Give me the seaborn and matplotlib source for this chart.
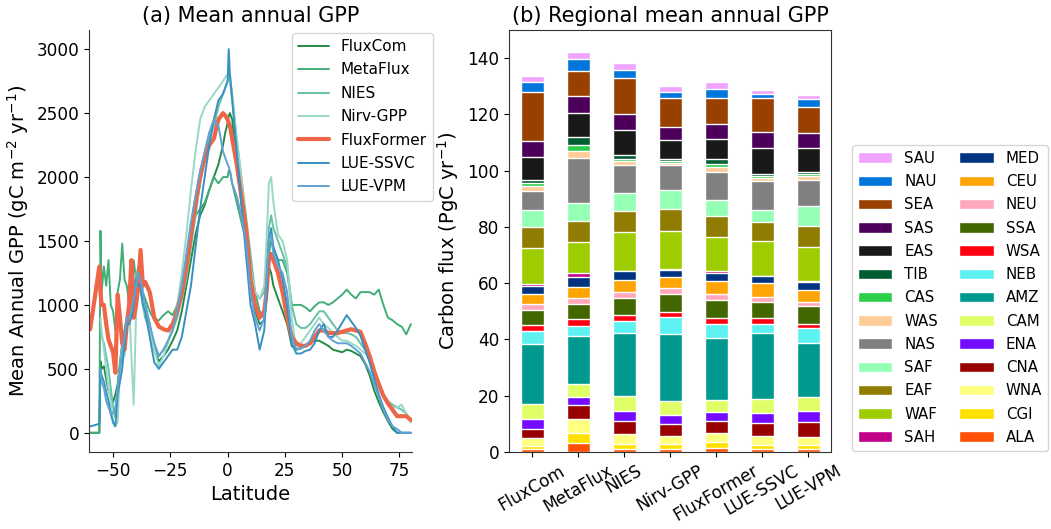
import numpy as np
import pandas as pd
import matplotlib
matplotlib.use("Agg")
import matplotlib.pyplot as plt
import seaborn as sns
from matplotlib.patches import Patch

sns.set_style("ticks")
plt.rcParams['font.family'] = ['DejaVu Sans']
plt.rcParams.update({"text.color": "black", "axes.labelcolor": "black",
                     "xtick.color": "black", "ytick.color": "black",
                     "axes.edgecolor": "#333333"})

nan = np.nan
# ---------------- panel (a): latitude profiles ----------------
lat = [-60, -56, -55.5, -55, -54, -53, -52, -51, -50, -49,
       -48, -47, -46, -45, -44, -43, -42, -41, -40, -39,
       -38, -37, -36, -34, -32, -30, -28, -26, -24, -22,
       -20, -18, -16, -14, -12, -10, -8, -6, -4, -2,
       -1, 0, 0.5, 1, 2, 4, 6, 8, 10, 12,
       14, 16, 17, 18, 19, 20, 22, 24, 26, 28,
       30, 32, 34, 36, 38, 40, 42, 44, 46, 48,
       50, 52, 54, 56, 58, 60, 62, 64, 66, 68,
       70, 72, 74, 76, 78, 80]

fluxcom = [0, 0, 560, 500, 520, 420, 330, 280, 240, 300,
           380, 550, 700, 800, 900, 950, 1000, 1100, 1150, 1250,
           1200, 1050, 1000, 850, 650, 560, 600, 650, 720, 800,
           950, 1150, 1350, 1550, 1700, 1780, 1900, 2000, 2100, 2250,
           2350, 2420, 2480, 2500, 2450, 2100, 1800, 1500, 1150, 950,
           850, 880, 1050, 1300, 1250, 1150, 1050, 950, 850, 680,
           650, 660, 680, 700, 720, 720, 700, 680, 650, 640,
           630, 650, 640, 620, 600, 540, 450, 330, 240, 160,
           90, 30, 0, 0, 0, 0]

metaflux = [0, 0, 1580, 1100, 1300, 1150, 1350, 1000, 950, 800,
            1100, 1200, 1480, 1200, 1150, 1000, 1050, 1350, 1200, 1300,
            1250, 1100, 1050, 950, 880, 880, 920, 950, 920, 1000,
            1150, 1350, 1550, 1700, 1750, 1800, 1900, 2000, 1950, 2000,
            2000, 2000, 2050, 2050, 1950, 1800, 1650, 1500, 1300, 1100,
            950, 900, 1050, 1400, 1500, 1450, 1350, 1350, 1250, 1000,
            1000, 1000, 980, 950, 990, 1020, 1020, 1000, 1020, 1050,
            1080, 1120, 1080, 1050, 1100, 1100, 1100, 1080, 1120, 1000,
            900, 880, 850, 830, 770, 850]

nies = [nan, nan, 800, 750, 700, 600, 500, 350, 200, 120,
        350, 500, 600, 800, 900, 950, 1000, 1100, 1250, 1150,
        1100, 1000, 900, 800, 700, 600, 650, 720, 800, 900,
        1050, 1200, 1450, 1700, 1950, 2150, 2300, 2400, 2550, 2650,
        2700, 2750, 2780, 2800, 2650, 2300, 2000, 1700, 1400, 1100,
        1050, 1100, 1300, 1600, 1700, 1600, 1500, 1400, 1300, 1000,
        850, 820, 820, 850, 900, 950, 950, 900, 850, 800,
        780, 780, 770, 750, 700, 650, 600, 500, 400, 300,
        250, 220, 200, 180, 150, 100]

nirv = [nan, nan, 900, 800, 650, 500, 350, 250, 100, 60,
        80, 500, 700, 600, 800, 1000, 600, 220, 900, 1100,
        1300, 1100, 950, 800, 650, 520, 600, 700, 850, 1000,
        1250, 1550, 1900, 2200, 2450, 2550, 2600, 2650, 2700, 2750,
        2780, 2800, 2780, 2750, 2600, 2300, 2000, 1600, 1300, 1100,
        1050, 1150, 1500, 1950, 2000, 1800, 1550, 1500, 1350, 900,
        650, 700, 750, 800, 850, 900, 850, 820, 780, 750,
        720, 720, 700, 680, 650, 620, 600, 500, 400, 300,
        250, 200, 200, 220, 150, 80]

fluxformer = [810, 1300, 1100, 1000, 1000, 850, 730, 680, 630, 470,
              1080, 900, 700, 650, 850, 1000, 1350, 900, 1000, 1150,
              1430, 1150, 1180, 1100, 900, 830, 810, 800, 850, 950,
              1100, 1300, 1550, 1800, 2000, 2150, 2250, 2300, 2450, 2500,
              2480, 2450, 2420, 2400, 2300, 2100, 1850, 1600, 1200, 1000,
              900, 950, 1100, 1350, 1400, 1350, 1250, 1100, 900, 750,
              700, 680, 680, 700, 750, 800, 800, 780, 780, 780,
              790, 800, 810, 800, 790, 700, 600, 480, 380, 290,
              230, 180, 130, 130, 130, 100]

lue_ssvc = [50, 70, 500, 450, 400, 320, 250, 150, 80, 50,
            300, 400, 500, 700, 850, 850, 900, 1000, 1200, 1150,
            1150, 1000, 950, 750, 550, 500, 550, 600, 650, 650,
            750, 950, 1150, 1450, 1750, 2000, 2250, 2450, 2600, 2650,
            2700, 2750, 3000, 2800, 2600, 2200, 1800, 1400, 1000, 850,
            650, 800, 1100, 1500, 1600, 1450, 1350, 1200, 1000, 700,
            620, 620, 640, 650, 700, 800, 850, 750, 750, 800,
            860, 920, 870, 820, 760, 650, 550, 420, 300, 200,
            120, 50, 0, 0, 0, 0]

lue_vpm = [nan, nan, 500, 400, 350, 250, 200, 150, 150, 200,
           350, 500, 650, 750, 900, 900, 950, 1050, 1150, 1250,
           1200, 1100, 1000, 850, 700, 600, 650, 720, 800, 950,
           1150, 1400, 1650, 1850, 2050, 2200, 2350, 2450, 2400, 2200,
           2150, 2100, 2080, 2050, 1950, 1850, 1700, 1500, 1100, 900,
           800, 900, 1200, 1500, 1550, 1400, 1300, 1250, 1100, 750,
           650, 660, 680, 720, 800, 850, 800, 750, 720, 700,
           700, 700, 680, 650, 620, 550, 480, 380, 280, 180,
           100, 50, 30, 0, 0, 0]

line_names = ["FluxCom", "MetaFlux", "NIES", "Nirv-GPP", "FluxFormer", "LUE-SSVC", "LUE-VPM"]
line_values = [fluxcom, metaflux, nies, nirv, fluxformer, lue_ssvc, lue_vpm]
line_colors = ["#238b45", "#41ae76", "#66c2a4", "#99d8c9", "#ef6548", "#3690c0", "#5fa2d3"]
line_widths = [1.4, 1.4, 1.4, 1.4, 3.0, 1.4, 1.4]

# ---------------- panel (b): regional stacked bars ----------------
models = ["FluxCom", "MetaFlux", "NIES", "Nirv-GPP", "FluxFormer", "LUE-SSVC", "LUE-VPM"]
regions = ["ALA", "CGI", "WNA", "CNA", "ENA", "CAM", "AMZ", "NEB", "WSA", "SSA",
           "NEU", "CEU", "MED", "SAH", "WAF", "EAF", "SAF", "NAS", "WAS", "CAS",
           "TIB", "EAS", "SAS", "SEA", "NAU", "SAU"]
region_colors = ["#FF5005", "#FFE100", "#FFFF80", "#990000", "#740AFF", "#E0FF66",
                 "#00998F", "#5EF1F2", "#FF0010", "#426600", "#FFA8BB", "#FFA405",
                 "#003380", "#C20088", "#9DCC00", "#8F7C00", "#94FFB5", "#808080",
                 "#FFCC99", "#2BCE48", "#005C31", "#191919", "#4C005C", "#993F00",
                 "#0075DC", "#F0A3FF"]

gpp_fluxcom = [1.0, 1.2, 2.6, 3.4, 3.5, 5.4, 21.3, 4.5, 2.1, 5.5, 2.1, 3.4, 3.1,
               0.5, 12.9, 7.6, 5.8, 7.0, 1.6, 1.1, 1.0, 8.2, 5.6, 17.6, 3.4, 2.1]
gpp_metaflux = [3.3, 3.5, 5.1, 4.7, 2.9, 4.5, 17.1, 3.7, 2.4, 5.4, 2.3, 3.9, 3.5,
                1.4, 11.0, 7.3, 6.5, 15.9, 2.6, 2.2, 2.8, 8.6, 6.1, 8.6, 4.5, 2.4]
gpp_nies = [1.2, 1.8, 3.4, 4.7, 3.5, 5.3, 22.4, 4.4, 2.1, 6.1, 2.1, 4.2, 3.0,
            0.3, 13.6, 7.7, 6.1, 10.1, 1.5, 0.7, 1.2, 8.9, 5.8, 12.9, 2.9, 2.2]
gpp_nirv = [1.2, 1.5, 2.9, 4.4, 3.3, 4.7, 24.0, 6.1, 1.7, 6.4, 2.1, 4.0, 2.5,
            0.2, 13.6, 7.6, 6.8, 8.9, 0.8, 0.6, 0.7, 7.0, 4.5, 10.4, 2.1, 2.2]
gpp_fluxformer = [1.3, 2.2, 3.2, 4.3, 3.1, 4.5, 21.9, 5.0, 2.1, 6.4, 2.0, 4.6, 3.0,
                  0.7, 12.0, 7.5, 5.8, 9.8, 2.0, 1.1, 1.5, 7.3, 5.3, 9.3, 3.3, 2.2]
gpp_lue_ssvc = [1.2, 1.3, 3.3, 4.6, 3.3, 5.2, 23.3, 3.4, 1.9, 5.8, 1.9, 4.8, 2.5,
                0.2, 12.3, 6.6, 4.5, 10.3, 0.9, 0.8, 0.7, 9.1, 5.8, 12.3, 1.2, 1.6]
gpp_lue_vpm = [1.1, 1.4, 2.8, 5.4, 3.8, 4.9, 19.3, 5.3, 1.6, 6.3, 1.4, 4.2, 2.9,
               0.4, 11.9, 7.8, 7.0, 9.1, 1.4, 0.7, 0.8, 8.4, 5.4, 9.2, 2.9, 1.6]

bar_table = pd.DataFrame(
    [gpp_fluxcom, gpp_metaflux, gpp_nies, gpp_nirv, gpp_fluxformer, gpp_lue_ssvc, gpp_lue_vpm],
    index=models, columns=regions)
cum_table = bar_table.cumsum(axis=1)

# ---------------- figure ----------------
fig = plt.figure(figsize=(10.51, 5.29), dpi=100)
ax1 = fig.add_axes([0.0847, 0.1456, 0.3073, 0.7977])
ax2 = fig.add_axes([0.4843, 0.1456, 0.3064, 0.7977])

line_df = pd.DataFrame({"lat": lat})
for name, vals, col, lw in zip(line_names, line_values, line_colors, line_widths):
    line_df[name] = vals
    sns.lineplot(data=line_df, x="lat", y=name, color=col, linewidth=lw,
                 label=name, ax=ax1)

ax1.set_xlim(-60.5, 80.5)
ax1.set_ylim(-150, 3150)
ax1.set_xticks([-50, -25, 0, 25, 50, 75])
ax1.set_yticks([0, 500, 1000, 1500, 2000, 2500, 3000])
ax1.set_xlabel("Latitude", fontsize=14)
ax1.set_ylabel("Mean Annual GPP (gC m$^{-2}$ yr$^{-1}$)", fontsize=14)
ax1.set_title("(a) Mean annual GPP", fontsize=15)
ax1.tick_params(labelsize=12.2)
sns.despine(ax=ax1)
ax1.legend(loc="upper right", bbox_to_anchor=(1.065, 0.993), borderaxespad=0,
           fontsize=11, labelspacing=0.55, frameon=True)

# stacked bars: draw cumulative totals from top segment down
for i in range(len(regions) - 1, -1, -1):
    sns.barplot(x=models, y=cum_table.iloc[:, i].values, color=region_colors[i],
                saturation=1, width=0.5, errorbar=None, ax=ax2, order=models)

ax2.set_ylim(0, 150)
ax2.set_xlim(-0.5, 6.5)
ax2.set_yticks([0, 20, 40, 60, 80, 100, 120, 140])
ax2.set_ylabel("Carbon flux (PgC yr$^{-1}$)", fontsize=14)
ax2.set_title("(b) Regional mean annual GPP", fontsize=15)
ax2.tick_params(labelsize=12.2)
for lab in ax2.get_xticklabels():
    lab.set_rotation(30)
    lab.set_ha("center")

handles = [Patch(facecolor=c, edgecolor="white", label=r)
           for r, c in zip(regions, region_colors)][::-1]
ax2.legend(handles=handles, ncol=2, loc="center left",
           bbox_to_anchor=(1.065, 0.365), borderaxespad=0, fontsize=10.8,
           handlelength=2.3, labelspacing=0.55, columnspacing=1.4, frameon=True)

fig.savefig("out.png", dpi=100)
